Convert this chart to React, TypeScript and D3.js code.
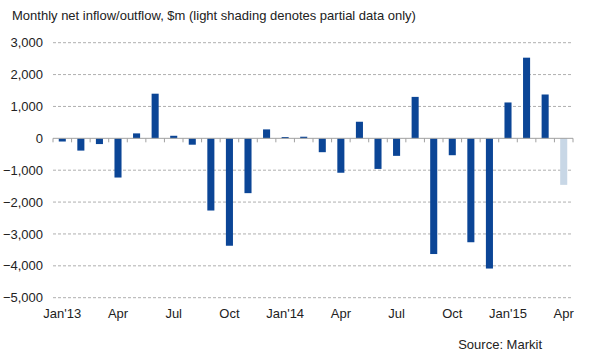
import React from 'react'
import * as d3 from 'd3'

// monthly net flows, $m (Jan'13 .. Apr'15); last month is partial data
const months = [
  'Jan13', 'Feb13', 'Mar13', 'Apr13', 'May13', 'Jun13', 'Jul13', 'Aug13', 'Sep13', 'Oct13', 'Nov13', 'Dec13',
  'Jan14', 'Feb14', 'Mar14', 'Apr14', 'May14', 'Jun14', 'Jul14', 'Aug14', 'Sep14', 'Oct14', 'Nov14', 'Dec14',
  'Jan15', 'Feb15', 'Mar15', 'Apr15',
]
const flows = [
  -100, -385, -180, -1230, 155, 1400, 80, -200, -2265, -3370, -1720, 280,
  40, 50, -435, -1080, 520, -960, -550, 1300, -3630, -530, -3260, -4085,
  1125, 2530, 1375, -1460,
]
const partial = [false, false, false, false, false, false, false, false, false, false, false, false,
  false, false, false, false, false, false, false, false, false, false, false, false,
  false, false, false, true]
const tickLabels: [string, string][] = [
  ['Jan13', "Jan'13"], ['Apr13', 'Apr'], ['Jul13', 'Jul'], ['Oct13', 'Oct'],
  ['Jan14', "Jan'14"], ['Apr14', 'Apr'], ['Jul14', 'Jul'], ['Oct14', 'Oct'],
  ['Jan15', "Jan'15"], ['Apr15', 'Apr'],
]
const yTicks = [3000, 2000, 1000, 0, -1000, -2000, -3000, -4000, -5000]

const App = () => {
  const width = 590
  const height = 354
  const left = 53
  const right = 573
  const top = 42.7
  const bottom = 297.7

  const x = d3.scaleBand().domain(months).range([left, right]).paddingInner(0.62).paddingOuter(0.31)
  const y = d3.scaleLinear().domain([-5000, 3000]).range([bottom, top])
  const step = x.step()
  const fmt = d3.format(',')
  const font = 'Arial, "Liberation Sans", sans-serif'

  return (
    <svg width={width} height={height} style={{ position: 'absolute', left: 0, top: 0 }} fontFamily={font}>
      <rect width={width} height={height} fill="#fff" />
      <text x={12} y={20} fontSize={13} fill="#222">
        Monthly net inflow/outflow, $m (light shading denotes partial data only)
      </text>
      {yTicks.map((t) => (
        <g key={t}>
          {t !== 0 && (
            <line x1={left} x2={right} y1={y(t)} y2={y(t)} stroke="#9a9a9a" strokeWidth={0.8} strokeDasharray="3,2" />
          )}
          <text x={43} y={y(t)} dy="0.35em" textAnchor="end" fontSize={13} fill="#222">
            {fmt(t)}
          </text>
        </g>
      ))}
      {months.map((m, i) => {
        const v = flows[i]
        return (
          <rect
            key={m}
            x={x(m)}
            width={x.bandwidth()}
            y={y(Math.max(0, v))}
            height={Math.abs(y(v) - y(0))}
            fill={partial[i] ? '#c8d7e6' : '#0b4596'}
          />
        )
      })}
      <line x1={left} x2={right} y1={y(0)} y2={y(0)} stroke="#a0a0a0" strokeWidth={1} />
      {d3.range(months.length + 1).map((i) => (
        <line key={i} x1={left + i * step} x2={left + i * step} y1={y(0)} y2={y(0) + 4} stroke="#a0a0a0" strokeWidth={1} />
      ))}
      {tickLabels.map(([m, label]) => (
        <text key={label + m} x={(x(m) ?? 0) + x.bandwidth() / 2} y={318} textAnchor="middle" fontSize={13} fill="#222">
          {label}
        </text>
      ))}
      <text x={542} y={349} textAnchor="end" fontSize={13} fill="#222">
        Source: Markit
      </text>
    </svg>
  )
}

export default App
